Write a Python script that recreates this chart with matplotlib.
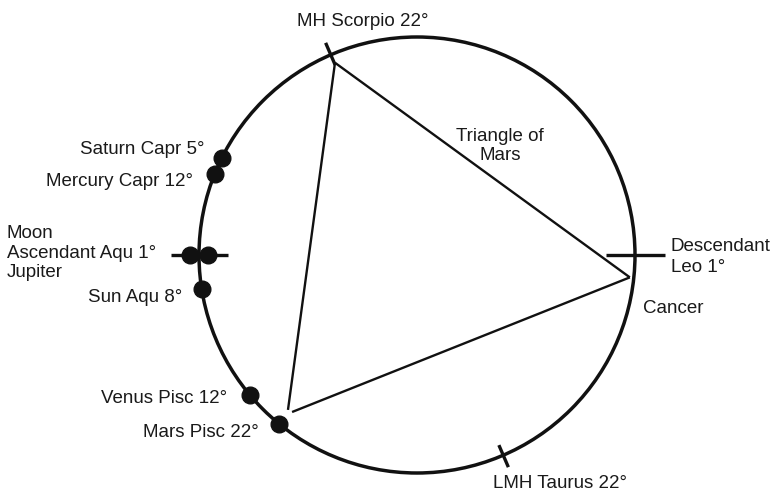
import numpy as np
import matplotlib
matplotlib.use("Agg")
import matplotlib.pyplot as plt
from matplotlib.patches import Circle

plt.rcParams['font.family'] = ['Liberation Sans', 'DejaVu Sans']

# ---- data (angles in degrees on the chart wheel, counter-clockwise from the right) ----
planet_names = ["Saturn", "Mercury", "Sun", "Venus", "Mars"]
planet_angles = [153.6, 158.2, 188.9, 219.8, 230.8]
planet_labels = ["Saturn Capr 5°", "Mercury Capr 12°", "Sun Aqu 8°", "Venus Pisc 12°", "Mars Pisc 22°"]

asc_bodies = ["Moon", "Jupiter"]
asc_angle = 180.0
asc_label = "Moon\nAscendant Aqu 1°\nJupiter"

axis_names = ["MH", "LMH", "Descendant"]
axis_angles = [113.3, 293.3, 0.0]
axis_labels = ["MH Scorpio 22°", "LMH Taurus 22°", "Descendant\nLeo 1°"]

triangle_angles = [113.1, 230.8, 354.0]
triangle_label = "Triangle of\nMars"
cancer_label = "Cancer"

# ---- layout ----
W, H = 772, 494
cx, cy, R = 417.0, 255.0, 218.0

def pt(angle, r):
    a = np.deg2rad(angle)
    return cx + r * np.cos(a), cy - r * np.sin(a)

fig = plt.figure(figsize=(W / 100, H / 100), dpi=100)
ax = fig.add_axes([0, 0, 1, 1])
ax.set_xlim(0, W)
ax.set_ylim(H, 0)
ax.axis('off')

ink = '#111111'
ax.add_patch(Circle((cx, cy), R, fill=False, lw=2.5, color=ink))

# triangle of Mars
tri_r = [209.0, 205.0, 214.0]
P = [np.array(pt(a, r)) for a, r in zip(triangle_angles, tri_r)]
def seg(p, q, trim_p=0, trim_q=0):
    d = (q - p) / np.linalg.norm(q - p)
    a = p + d * trim_p
    b = q - d * trim_q
    ax.plot([a[0], b[0]], [a[1], b[1]], color=ink, lw=1.7, solid_capstyle='butt')
seg(P[0], P[1], 0, 4)
seg(P[0], P[2])
seg(P[2], P[1], 0, 5)

# axis ticks
for ang in axis_angles[:2]:
    p1 = pt(ang, R - 11)
    p2 = pt(ang, R + 13)
    ax.plot([p1[0], p2[0]], [p1[1], p2[1]], color=ink, lw=2.4, solid_capstyle='butt')
# ascendant & descendant horizontal ticks
for ang, (rin, rout) in zip([asc_angle, axis_angles[2]], [(-29, 28), (-29, 30)]):
    p1 = pt(ang, R + rin)
    p2 = pt(ang, R + rout)
    ax.plot([p1[0], p2[0]], [p1[1], p2[1]], color=ink, lw=2.4, solid_capstyle='butt')

# planets
for ang in planet_angles:
    x, y = pt(ang, R)
    ax.plot(x, y, 'o', ms=12, color=ink, zorder=5)
for off in [9, -9]:
    x, y = pt(asc_angle, R + off)
    ax.plot(x, y, 'o', ms=12, color=ink, zorder=5)

fs = 13.5
tc = '#1a1a1a'
# planet labels (right aligned)
label_pos = [(204, 149), (193, 181), (182, 297), (227, 398), (259, 432)]
for (x, y), t in zip(label_pos, planet_labels):
    ax.text(x, y, t, ha='right', va='center', fontsize=fs, color=tc)

ax.text(7, 253, asc_label, ha='left', va='center', fontsize=fs, color=tc, linespacing=1.2)

ax.text(297, 21, axis_labels[0], ha='left', va='center', fontsize=fs, color=tc)
ax.text(493, 483, axis_labels[1], ha='left', va='center', fontsize=fs, color=tc)
ax.text(671, 257, axis_labels[2], ha='left', va='center', fontsize=fs, color=tc, linespacing=1.25)
ax.text(643, 308, cancer_label, ha='left', va='center', fontsize=fs, color=tc)
ax.text(500, 146, triangle_label, ha='center', va='center', fontsize=fs, color=tc, linespacing=1.2)

fig.savefig("out.png", dpi=100)
